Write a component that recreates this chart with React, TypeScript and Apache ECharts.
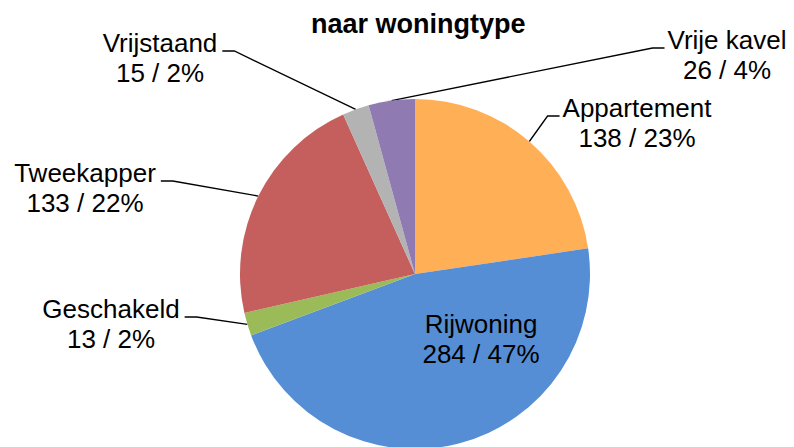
import React, { useEffect, useRef } from "react";
import * as echarts from "echarts";

const titleText = "naar woningtype";
const categories = ["Appartement", "Rijwoning", "Geschakeld", "Tweekapper", "Vrijstaand", "Vrije kavel"];
const values = [138, 284, 13, 133, 15, 26];
const colors = ["#FFAF55", "#558ED5", "#9BBB59", "#C55F5D", "#B3B3B3", "#8F7AB2"];

// label placement: centre x, top y, side of leader line
const labelCenterX = [637, 481, 111, 85, 160, 727];
const labelTopY = [93, 309, 294, 158, 28, 25];
const labelSide = ["right", "inside", "left", "left", "left", "right"];

const CX = 415;
const CY = 274;
const R = 175;

export default function App() {
  const ref = useRef<HTMLDivElement>(null);
  useEffect(() => {
    document.body.style.margin = "0";
    if (!ref.current) return;
    const chart = echarts.init(ref.current, undefined, { renderer: "svg" });
    const total = values.reduce((a, b) => a + b, 0);
    const anchor = (i: number) => {
      let cum = 0;
      for (let k = 0; k < i; k++) cum += values[k];
      const a = ((cum + values[i] / 2) / total) * Math.PI * 2;
      return [CX + R * Math.sin(a), CY - R * Math.cos(a)];
    };
    chart.setOption({
      animation: false,
      title: {
        text: titleText,
        left: 306,
        top: 3,
        textStyle: {
          fontFamily: "Liberation Sans",
          fontSize: 27,
          fontWeight: "bold",
          color: "#000",
          lineHeight: 32,
        },
      },
      series: [
        {
          type: "pie",
          center: [CX, CY],
          radius: R,
          startAngle: 90,
          clockwise: true,
          avoidLabelOverlap: false,
          percentPrecision: 0,
          silent: true,
          emphasis: { disabled: true },
          label: {
            show: true,
            position: "outside",
            formatter: "{b}\n{c} / {d}%",
            fontFamily: "Liberation Sans",
            fontSize: 26,
            lineHeight: 30,
            color: "#000",
            align: "center",
          },
          labelLine: {
            show: true,
            lineStyle: { color: "#000", width: 1.3 },
          },
          labelLayout: (params: any) => {
            const i = params.dataIndex;
            const cx = labelCenterX[i];
            const top = labelTopY[i];
            const side = labelSide[i];
            const w = params.labelRect.width;
            const res: any = { x: cx, y: top, align: "center", verticalAlign: "top" };
            if (side !== "inside") {
              const ly = top + 23;
              const a = anchor(i);
              if (side === "left") {
                const end = cx + w / 2 + 5;
                res.labelLinePoints = [a, [end + 12, ly], [end, ly]];
              } else {
                const end = cx - w / 2 - 3;
                res.labelLinePoints = [a, [end - 12, ly], [end, ly]];
              }
            }
            return res;
          },
          data: categories.map((name, i) => ({
            name,
            value: values[i],
            itemStyle: { color: colors[i] },
            ...(labelSide[i] === "inside"
              ? { label: { position: "inside" }, labelLine: { show: false } }
              : {}),
          })),
        },
      ],
    });
    return () => chart.dispose();
  }, []);
  return <div ref={ref} style={{ width: 794, height: 447 }} />;
}
